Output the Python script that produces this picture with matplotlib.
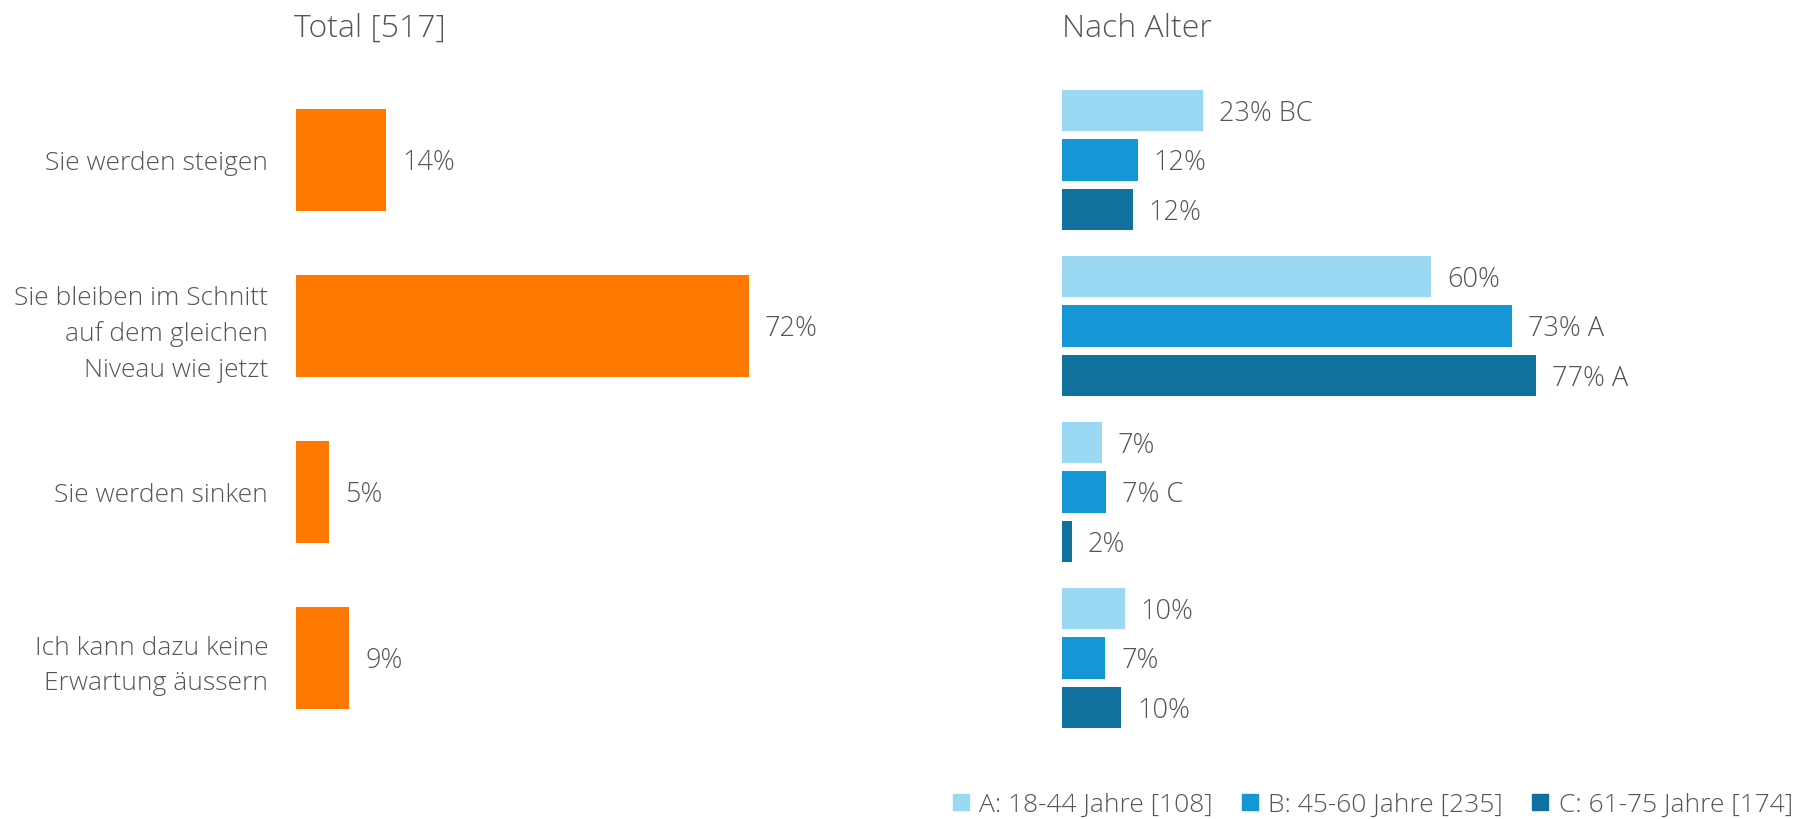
import numpy as np
import matplotlib.pyplot as plt
from matplotlib.lines import Line2D

# --- data ---
categories = [
    "Sie werden steigen",
    "Sie bleiben im Schnitt\nauf dem gleichen\nNiveau wie jetzt",
    "Sie werden sinken",
    "Ich kann dazu keine\nErwartung äussern",
]
total_values = [14.3, 72.0, 5.2, 8.5]
total_labels = ["14%", "72%", "5%", "9%"]

age_groups = ["A: 18-44 Jahre [108]", "B: 45-60 Jahre [235]", "C: 61-75 Jahre [174]"]
age_a = [23.0, 60.0, 6.5, 10.2]
age_b = [12.3, 73.2, 7.2, 7.0]
age_c = [11.5, 77.0, 1.6, 9.6]
age_a_labels = ["23% BC", "60%", "7%", "10%"]
age_b_labels = ["12%", "73% A", "7% C", "7%"]
age_c_labels = ["12%", "77% A", "2%", "10%"]

ORANGE = "#FF7800"
BLUES = ["#9AD8F3", "#1497D4", "#10719E"]
TEXT = "#555555"

plt.rcParams['font.family'] = ['Open Sans', 'DejaVu Sans']
plt.rcParams['font.weight'] = 'light'

W, H = 1794, 819
fig = plt.figure(figsize=(W / 100, H / 100), dpi=100)

# axes placed in pixel terms: group centres at 160, 326, 492, 658 px
ymin, ymax = -0.6, 3.6
top_px = 160 - 0.6 * 166
hgt_px = (ymax - ymin) * 166
bottom = 1 - (top_px + hgt_px) / H
height = hgt_px / H

ax1 = fig.add_axes([296 / W, bottom, 629 / W, height])
ax2 = fig.add_axes([1062 / W, bottom, 615 / W, height])

y = np.arange(len(categories))

# left panel: total
ax1.barh(y, total_values, height=0.62, color=ORANGE)
for yi, v, lab in zip(y, total_values, total_labels):
    ax1.annotate(lab, (v, yi), xytext=(11.5, 0), textcoords='offset points',
                 va='center_baseline', ha='left', fontsize=19.5, color=TEXT)
ax1.set_yticks(y)
ax1.set_yticklabels(categories, fontsize=19, color=TEXT, linespacing=1.55)
ax1.tick_params(axis='y', length=0, pad=20)

# right panel: by age
step = 0.30
for k, (vals, labs) in enumerate(zip([age_a, age_b, age_c],
                                     [age_a_labels, age_b_labels, age_c_labels])):
    yy = y + (k - 1) * step
    ax2.barh(yy, vals, height=0.247, color=BLUES[k])
    for yi, v, lab in zip(yy, vals, labs):
        ax2.annotate(lab, (v, yi), xytext=(11.5, 0), textcoords='offset points',
                     va='center_baseline', ha='left', fontsize=19.5, color=TEXT)
ax2.set_yticks([])

for ax in (ax1, ax2):
    ax.set_xlim(0, 100)
    ax.set_ylim(ymax, ymin)
    ax.set_xticks([])
    for s in ax.spines.values():
        s.set_visible(False)

fig.text(294 / W, 1 - 37 / H, "Total [517]", fontsize=23, color=TEXT, va='baseline')
fig.text(1062 / W, 1 - 37 / H, "Nach Alter", fontsize=23, color=TEXT, va='baseline')

handles = [Line2D([], [], marker='s', linestyle='none', markersize=11.5,
                  markerfacecolor=c, markeredgecolor=c) for c in BLUES]
fig.legend(handles, age_groups, loc='lower right', bbox_to_anchor=(1.0, 0.0),
           ncol=3, frameon=False, fontsize=19, labelcolor=TEXT,
           handletextpad=0.3, columnspacing=1.0, handlelength=0.8,
           borderpad=0.0, borderaxespad=0.05)

fig.savefig("out.png", dpi=100)
